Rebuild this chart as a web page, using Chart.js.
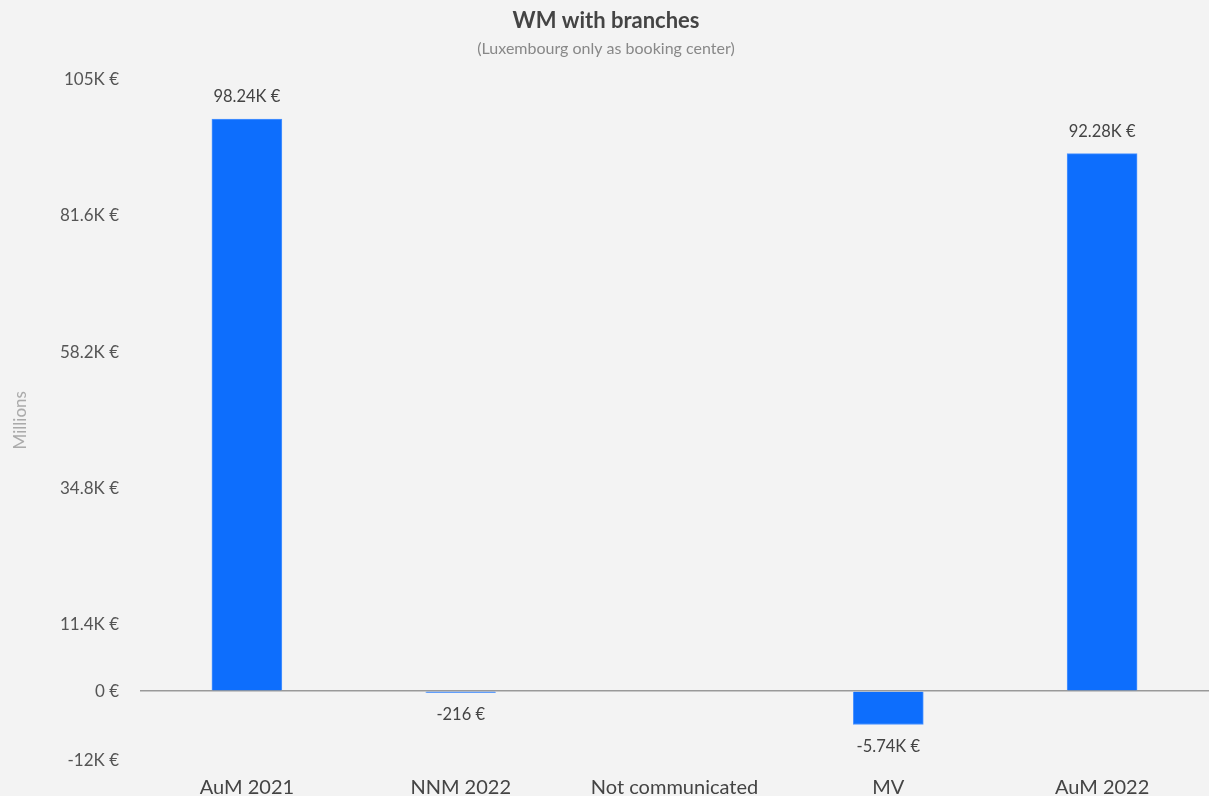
<!DOCTYPE html>
<html>
<head>
<meta charset="utf-8">
<script src="https://cdn.jsdelivr.net/npm/chart.js@4"></script>
<style>
  html, body { margin: 0; padding: 0; background: #f3f3f3; }
  canvas { display: block; }
</style>
</head>
<body>
<canvas id="myChart" width="1209" height="796"></canvas>
<script>
// data (millions)
const categories = ['AuM 2021', 'NNM 2022', 'Not communicated', 'MV', 'AuM 2022'];
const amounts = [98240, -216, null, -5740, 92280];
const tickValues = [-12000, 0, 11400, 34800, 58200, 81600, 105000];

const FONT = 'Lato, "Noto Sans", sans-serif';

function fmt(v) {
    if (Math.abs(v) >= 1000) {
        let k = Math.round(v / 10) / 100;
        return k + 'K €';
    }
    return Math.round(v) + ' €';
}

// draws value labels above / below each bar
const valueLabels = {
    id: 'valueLabels',
    afterDatasetsDraw(chart) {
        const c = chart.ctx;
        const meta = chart.getDatasetMeta(0);
        c.save();
        c.font = '16.5px ' + FONT;
        c.fillStyle = '#444';
        c.textAlign = 'center';
        c.textBaseline = 'middle';
        meta.data.forEach((bar, i) => {
            const v = amounts[i];
            if (v === null) return;
            if (v >= 0) {
                c.fillText(fmt(v), bar.x, bar.y - 22);
            } else {
                c.fillText(fmt(v), bar.x, bar.y + 22);
            }
        });
        c.restore();
    }
};

const ctx = document.getElementById('myChart');
let myChart = new Chart(ctx, {
    type: 'bar',
    data: {
        labels: categories,
        datasets: [{
            label: 'WM',
            data: amounts,
            backgroundColor: '#0d6efd',
            borderColor: '#4d94ff',
            borderWidth: 1,
            barThickness: 70
        }]
    },
    options: {
        responsive: false,
        animation: false,
        layout: { padding: { top: 0, left: 0, bottom: 0, right: -3 } },
        plugins: {
            legend: { display: false },
            tooltip: { enabled: false },
            title: {
                display: true,
                text: 'WM with branches',
                color: '#444',
                font: { family: FONT, size: 22, weight: 'bold' },
                padding: { top: 8, bottom: 5 }
            },
            subtitle: {
                display: true,
                text: '(Luxembourg only as booking center)',
                color: '#888',
                font: { family: FONT, size: 16 },
                padding: { bottom: 21 }
            }
        },
        scales: {
            x: {
                grid: { display: false },
                border: { display: false },
                afterFit(scale) {
                    scale.height = 35;
                },
                ticks: {
                    color: '#444',
                    font: { family: FONT, size: 20 },
                    padding: 7
                }
            },
            y: {
                min: -12000,
                max: 105000,
                afterBuildTicks(scale) {
                    scale.ticks = tickValues.map(v => ({ value: v }));
                },
                afterFit(scale) {
                    scale.width = 140;
                },
                border: { display: false },
                grid: {
                    drawTicks: false,
                    color: c => c.tick && c.tick.value === 0 ? '#999' : 'rgba(0,0,0,0)',
                    lineWidth: 1.5
                },
                title: {
                    display: true,
                    text: 'Millions',
                    color: '#aaa',
                    font: { family: FONT, size: 17 },
                    padding: { top: 10, bottom: 0 }
                },
                ticks: {
                    color: '#555',
                    font: { family: FONT, size: 17 },
                    padding: 21,
                    callback: v => fmt(v)
                }
            }
        }
    },
    plugins: [valueLabels]
});
</script>
</body>
</html>
